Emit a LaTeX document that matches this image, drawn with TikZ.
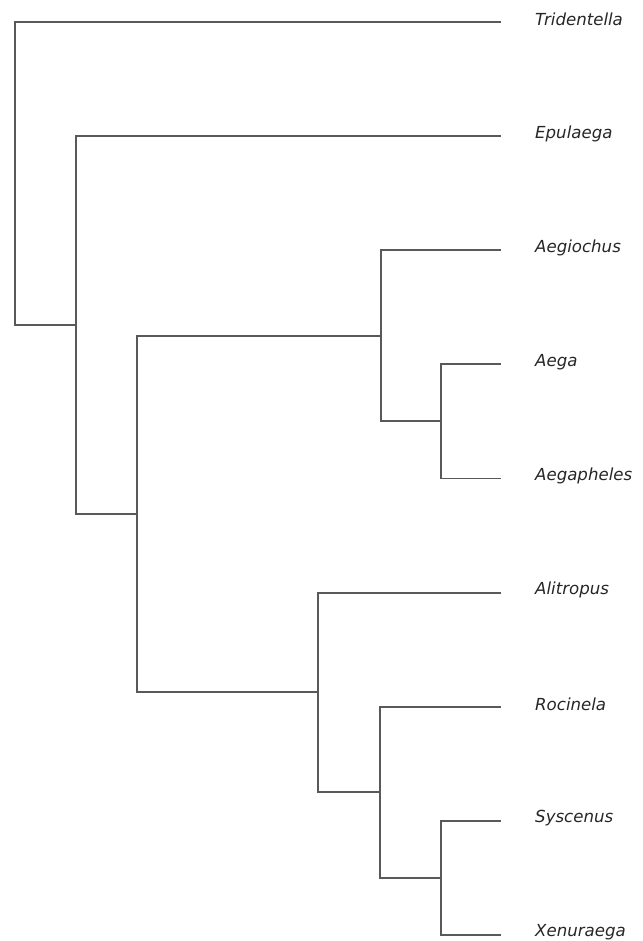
\documentclass[tikz,border=0pt]{standalone}
\usepackage{fontspec}
\setmainfont{DejaVu Sans}
\usetikzlibrary{positioning}
\tikzset{
  branch/.style={draw=black!65, line width=1.8pt, line join=miter, line cap=rect},
  taxon/.style={font=\itshape\fontsize{16.6}{19}\selectfont, text=black!85, inner sep=0pt}
}
\begin{document}
\begin{tikzpicture}[x=1pt,y=-1pt]
\useasboundingbox (0,0) rectangle (642,941);
% tips and labels
\foreach \name [count=\j from 1, evaluate=\j as \yy using 22+114.125*(\j-1)] in
    {Tridentella,Epulaega,Aegiochus,Aega,Aegapheles,Alitropus,Rocinela,Syscenus,Xenuraega} {
  \coordinate (t\j) at (500,\yy);
  \node[taxon, right=35pt of t\j, yshift=2.5pt] (l\j) {\name};
}
% inner nodes
\coordinate (n1) at (15,325);
\coordinate (n2) at (76,325);
\coordinate (n3) at (137,514);
\coordinate (n4) at (381,336);
\coordinate (n5) at (441,421);
\coordinate (n6) at (318,692);
\coordinate (n7) at (380,792);
\coordinate (n8) at (441,878);
% branches
\draw[branch] (t1) -| (n1) |- (n2);
\draw[branch] (t2) -| (n2) |- (n3);
\draw[branch] (n4) -| (n3) |- (n6);
\draw[branch] (t3) -| (n4) |- (n5);
\draw[branch] (t4) -| (n5) |- (t5);
\draw[branch] (t6) -| (n6) |- (n7);
\draw[branch] (t7) -| (n7) |- (n8);
\draw[branch] (t8) -| (n8) |- (t9);
\end{tikzpicture}
\end{document}
